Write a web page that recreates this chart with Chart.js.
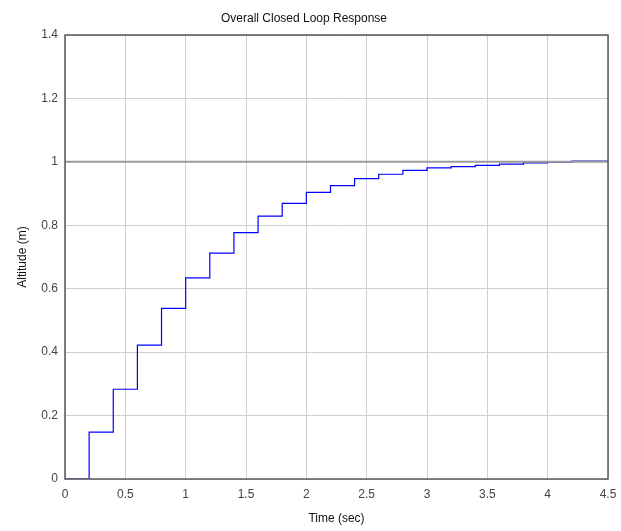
<!DOCTYPE html>
<html lang="en">
<head>
  <meta charset="UTF-8" />
  <title>Overall Closed Loop Response</title>
  <script src="https://cdn.jsdelivr.net/npm/chart.js"></script>
  <style>
    html, body {
      margin: 0;
      padding: 0;
      background: #fff;
    }
    #wrap {
      width: 621px;
      height: 531px;
    }
  </style>
</head>
<body>
  <div id="wrap"><canvas id="stepChart"></canvas></div>

  <script>
    // sample times (s) and held altitude values (m)
    const timeSec = [0, 0.2, 0.4, 0.6, 0.8, 1.0, 1.2, 1.4, 1.6, 1.8, 2.0, 2.2, 2.4,
      2.6, 2.8, 3.0, 3.2, 3.4, 3.6, 3.8, 4.0, 4.2, 4.5];
    const altitude = [0, 0.148, 0.283, 0.422, 0.538, 0.634, 0.712, 0.777, 0.829, 0.869,
      0.904, 0.925, 0.947, 0.961, 0.973, 0.981, 0.985, 0.989, 0.993, 0.997, 0.999, 1.002, 1.002];
    const refTime = [0, 4.5];
    const refValue = [1, 1];

    const font = { family: "'Liberation Sans', Arial, sans-serif", size: 12 };
    // matlab style: 1 not 1.0
    const fmt = v => String(Number(v.toFixed(2)));

    // frame round the plot area, like the matlab axes box
    const boxPlugin = {
      id: "box",
      afterDraw(chart) {
        const a = chart.chartArea;
        const ctx = chart.ctx;
        ctx.save();
        ctx.strokeStyle = "#5a5a5a";
        ctx.lineWidth = 1.5;
        ctx.strokeRect(a.left, a.top, a.right - a.left, a.bottom - a.top);
        ctx.restore();
      }
    };

    new Chart(document.getElementById("stepChart"), {
      type: "line",
      data: {
        datasets: [
          {
            label: "Reference",
            data: refTime.map((t, i) => ({ x: t, y: refValue[i] })),
            borderColor: "#9a9a9a",
            borderWidth: 2,
            pointRadius: 0
          },
          {
            label: "Altitude",
            data: timeSec.map((t, i) => ({ x: t, y: altitude[i] })),
            borderColor: "#0000ff",
            borderWidth: 1.2,
            pointRadius: 0,
            stepped: true
          }
        ]
      },
      options: {
        responsive: true,
        maintainAspectRatio: false,
        animation: false,
        layout: { padding: { top: 0, right: 13, bottom: 0, left: 0 } },
        plugins: {
          legend: { display: false },
          tooltip: { enabled: false },
          title: {
            display: true,
            text: "Overall Closed Loop Response",
            color: "#111",
            font: { ...font, weight: "normal" },
            padding: { top: 11, bottom: 9.6 }
          }
        },
        scales: {
          x: {
            type: "linear",
            min: 0,
            max: 4.5,
            afterFit(s) {
              s.height = 52;
              s.paddingRight = 0;
              s.paddingLeft = 0;
            },
            ticks: { stepSize: 0.5, color: "#444", font, padding: 8, callback: fmt },
            grid: { color: "#cfcfcf", drawTicks: false },
            border: { display: false },
            title: {
              display: true,
              text: "Time (sec)",
              color: "#111",
              font,
              padding: { top: 0, bottom: 5 }
            }
          },
          y: {
            min: 0,
            max: 1.4,
            afterFit(s) { s.width = 65; },
            ticks: { stepSize: 0.2, color: "#444", font, padding: 7, callback: fmt },
            grid: { color: "#cfcfcf", drawTicks: false },
            border: { display: false },
            title: {
              display: true,
              text: "Altitude (m)",
              color: "#111",
              font,
              padding: { top: 15, bottom: 0 }
            }
          }
        }
      },
      plugins: [boxPlugin]
    });
  </script>
</body>
</html>
